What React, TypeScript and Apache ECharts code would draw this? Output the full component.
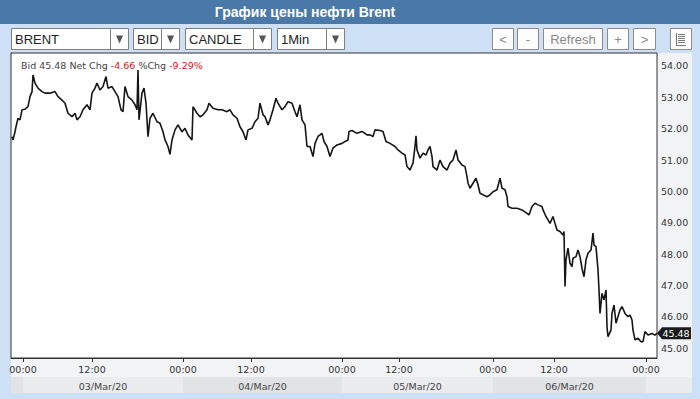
import React, { useEffect, useRef } from "react";
import * as echarts from "echarts";

// Bar index (chart timeline, one unit per candle slot) and prices
const bars = [
  1, 2, 4, 5, 7, 9, 11, 14, 17, 19, 21, 22, 24, 27, 31, 34, 39, 44, 47, 51,
  54, 57, 61, 64, 66, 69, 72, 76, 79, 81, 84, 86, 89, 92, 95, 97, 101, 104, 107, 110,
  112, 114, 117, 121, 124, 126, 127, 128, 131, 133, 135, 136, 137, 139, 142, 146, 149, 152, 154, 157,
  159, 161, 164, 167, 171, 174, 177, 181, 182, 186, 189, 192, 196, 198, 202, 207, 211, 216, 219, 222,
  226, 229, 232, 235, 237, 241, 244, 247, 249, 252, 254, 257, 259, 262, 265, 267, 271, 274, 277, 281,
  284, 286, 289, 291, 294, 296, 299, 302, 304, 307, 311, 313, 316, 319, 322, 326, 331, 334, 337, 338,
  341, 346, 351, 356, 359, 362, 364, 369, 372, 375, 379, 384, 387, 391, 394, 396, 399, 402, 404, 405,
  406, 409, 412, 415, 417, 419, 421, 422, 426, 429, 432, 436, 439, 442, 445, 447, 451, 454, 456, 457,
  459, 462, 465, 467, 469, 472, 476, 479, 482, 486, 489, 491, 494, 496, 497, 501, 506, 511, 516, 518,
  521, 524, 527, 531, 532, 535, 537, 539, 542, 544, 546, 549, 552, 553, 554, 555, 557, 559, 561, 562,
  565, 567, 569, 571, 573, 575, 577, 580, 582, 583, 585, 587, 588, 589, 591, 593, 595, 596, 597, 600,
  601, 603, 605, 607, 609, 611, 614, 617, 619, 621, 622, 624, 627, 630, 632, 634, 637, 641, 644, 646,
];
const prices = [
  51.74, 51.64, 51.9, 52.06, 52.33, 52.28, 52.6, 52.62, 52.7, 53.02, 53.18, 53.71, 53.45, 53.29, 53.18, 53.13, 53.13, 53.18, 53.02, 52.91,
  52.81, 52.49, 52.38, 52.49, 52.28, 52.38, 52.6, 52.76, 52.6, 53.13, 53.29, 53.45, 53.23, 53.34, 53.66, 53.29, 53.34, 53.18, 53.02, 52.6,
  52.54, 53.34, 53.02, 52.91, 52.76, 52.6, 53.87, 52.28, 53.13, 53.29, 52.81, 52.28, 51.74, 52.33, 52.49, 52.22, 52.17, 51.9, 51.64, 51.43,
  51.18, 51.64, 51.96, 52.12, 51.9, 52.01, 51.8, 51.64, 52.7, 52.49, 52.38, 52.44, 52.6, 52.81, 52.65, 52.6, 52.6, 52.54, 52.6, 52.44,
  52.33, 52.06, 51.9, 51.64, 51.96, 52.01, 52.22, 52.33, 52.81, 52.44, 52.38, 52.12, 52.28, 52.6, 52.97, 52.81, 52.6, 52.7, 52.86, 52.81,
  52.54, 52.38, 52.76, 52.28, 52.12, 51.43, 51.43, 51.11, 51.53, 51.75, 51.85, 51.59, 51.43, 51.11, 51.38, 51.48, 51.53, 51.59, 51.64, 51.91,
  51.94, 51.85, 51.91, 51.8, 51.8, 51.75, 51.96, 51.94, 51.91, 51.59, 51.53, 51.43, 51.32, 51.22, 51.16, 50.79, 50.68, 50.9, 51.43, 51.77,
  51.32, 51.06, 51.22, 51.16, 51.32, 51.43, 51.11, 50.79, 50.68, 51.0, 50.79, 50.68, 50.9, 51.0, 51.32, 51.0, 50.84, 50.79, 50.47, 50.26,
  50.1, 50.26, 50.42, 50.21, 49.94, 49.89, 49.83, 49.89, 49.99, 50.05, 50.42, 50.1, 50.05, 49.83, 49.52, 49.46, 49.46, 49.41, 49.3, 49.25,
  49.52, 49.62, 49.57, 49.52, 49.41, 49.2, 49.09, 48.98, 49.2, 48.98, 48.77, 48.72, 48.61, 48.72, 46.97, 47.82, 48.19, 47.71, 47.6, 47.87,
  47.92, 48.13, 47.92, 47.55, 47.28, 47.82, 48.03, 48.13, 48.67, 48.29, 48.24, 47.5, 46.86, 46.11, 46.75, 46.54, 46.86, 45.69, 45.37, 45.58,
  46.11, 46.38, 45.8, 46.01, 46.22, 46.33, 46.11, 46.01, 46.06, 45.9, 45.58, 45.27, 45.32, 45.21, 45.21, 45.53, 45.42, 45.47, 45.42, 45.48,
];

const barMax = 646;
const tickBars = [12, 81, 172, 240, 331, 388, 482, 543, 635];
const tickLabels = ["00:00", "12:00", "00:00", "12:00", "00:00", "12:00", "00:00", "12:00", "00:00"];
const dayBounds = [0, 12, 172, 331, 482, 635];
const dayLabels = ["", "03/Mar/20", "04/Mar/20", "05/Mar/20", "06/Mar/20", ""];
const yTicks = [45, 46, 47, 48, 49, 50, 51, 52, 53, 54];
const yMin = 44.69;
const yMax = 54.41;

const lastPrice = 45.48;
const netChg = -4.66;
const pctChg = -9.29;

const title = "График цены нефти Brent";
const selects = [
  { text: "BRENT", x: 11, w: 117, arrowW: 18 },
  { text: "BID", x: 133, w: 46, arrowW: 18 },
  { text: "CANDLE", x: 185, w: 86, arrowW: 18 },
  { text: "1Min", x: 277, w: 67, arrowW: 18 },
];
const buttons = [
  { text: "<", x: 492, w: 21 },
  { text: "-", x: 517, w: 21 },
  { text: "Refresh", x: 543, w: 59 },
  { text: "+", x: 607, w: 21 },
  { text: ">", x: 633, w: 22 },
];

const FONT = "DejaVu Sans";
const UI_FONT = "Liberation Sans";
const FS = 9.5;

export default function App() {
  const ref = useRef<HTMLDivElement>(null);
  useEffect(() => {
    const chart = echarts.init(ref.current!, null, { renderer: "svg" });
    const data = bars.map((b, i) => [b, prices[i]]);
    chart.setOption({
      animation: false,
      backgroundColor: "#cde0f6",
      grid: {
        left: 11,
        right: 43,
        top: 53,
        bottom: 41,
        show: true,
        backgroundColor: "#ffffff",
        borderColor: "#333",
        borderWidth: 1,
        z: 1,
      },
      xAxis: {
        type: "value",
        min: 0,
        max: barMax,
        axisLine: { show: true, lineStyle: { color: "#333" } },
        axisTick: { show: true, customValues: tickBars, length: 4, lineStyle: { color: "#333" } },
        axisLabel: {
          customValues: tickBars,
          formatter: (v: number) => {
            const i = tickBars.indexOf(Math.round(v));
            return i >= 0 ? tickLabels[i] : "";
          },
          color: "#333",
          fontFamily: FONT,
          fontSize: FS,
          margin: 6,
        },
        splitLine: { show: true, lineStyle: { color: "#e6e6e6", type: [4, 3] } },
      },
      yAxis: {
        type: "value",
        position: "right",
        min: yMin,
        max: yMax,
        axisLine: { show: true, lineStyle: { color: "#333" } },
        axisTick: { show: true, customValues: yTicks, length: 3, lineStyle: { color: "#333" } },
        axisLabel: {
          customValues: yTicks,
          formatter: (v: number) => v.toFixed(2),
          color: "#333",
          fontFamily: FONT,
          fontSize: FS,
          margin: 4,
        },
        splitLine: { show: true, lineStyle: { color: "#e6e6e6", type: [4, 3] } },
      },
      series: [
        {
          type: "line",
          data,
          showSymbol: false,
          lineStyle: { color: "#151515", width: 1.6 },
          z: 3,
          markPoint: {
            symbol: "path://M0,6 L6,0 L40,0 L40,12 L6,12 Z",
            symbolSize: [34, 12],
            symbolKeepAspect: false,
            symbolOffset: [17, 0],
            itemStyle: { color: "#1b1b1b" },
            label: {
              show: true,
              position: "inside",
              offset: [2, 0],
              formatter: lastPrice.toFixed(2),
              color: "#fff",
              fontFamily: FONT,
              fontSize: FS,
            },
            data: [{ coord: [bars[bars.length - 1], lastPrice] }],
          },
        },
      ],
    });

    const g: any[] = [];
    g.push({ type: "rect", z: -5, shape: { x: 11, y: 53, width: 681, height: 340 }, style: { fill: "#f2f3f5" } });
    g.push({ type: "rect", shape: { x: 0, y: 0, width: 700, height: 24 }, style: { fill: "#4a78a8" } });
    g.push({
      type: "text",
      x: 305,
      y: 12,
      style: {
        text: title,
        fill: "#fff",
        font: `bold 14px "${UI_FONT}"`,
        textAlign: "center",
        textVerticalAlign: "middle",
      },
    });
    selects.forEach((s) => {
      g.push({ type: "rect", shape: { x: s.x + 0.5, y: 28.5, width: s.w, height: 21 }, style: { fill: "#fff", stroke: "#808080", lineWidth: 1 } });
      const sep = s.x + s.w - s.arrowW + 0.5;
      g.push({ type: "line", shape: { x1: sep, y1: 28.5, x2: sep, y2: 49.5 }, style: { stroke: "#808080", lineWidth: 1 } });
      const cx = s.x + s.w - s.arrowW / 2 + 0.5;
      g.push({ type: "polygon", shape: { points: [[cx - 3.5, 35.5], [cx + 3.5, 35.5], [cx, 43.5]] }, style: { fill: "#555" } });
      g.push({
        type: "text",
        x: s.x + 4,
        y: 39.5,
        style: { text: s.text, fill: "#222", font: `13px "${UI_FONT}"`, textVerticalAlign: "middle" },
      });
    });
    buttons.forEach((b) => {
      g.push({ type: "rect", shape: { x: b.x + 0.5, y: 28.5, width: b.w, height: 21 }, style: { fill: "#fdfdfd", stroke: "#8c8c8c", lineWidth: 1 } });
      g.push({
        type: "text",
        x: b.x + b.w / 2 + 0.5,
        y: 39.5,
        style: { text: b.text, fill: "#888", font: `13px "${UI_FONT}"`, textAlign: "center", textVerticalAlign: "middle" },
      });
    });
    g.push({ type: "rect", shape: { x: 670.5, y: 28.5, width: 21, height: 21 }, style: { fill: "#fdfdfd", stroke: "#8c8c8c", lineWidth: 1 } });
    g.push({ type: "line", shape: { x1: 676.5, y1: 33, x2: 676.5, y2: 45 }, style: { stroke: "#777", lineWidth: 1 } });
    g.push({ type: "line", shape: { x1: 676, y1: 45.5, x2: 686, y2: 45.5 }, style: { stroke: "#777", lineWidth: 1 } });
    for (let k = 0; k < 5; k++) {
      const yy = 34.5 + k * 2;
      g.push({ type: "line", shape: { x1: 678, y1: yy, x2: 685, y2: yy }, style: { stroke: "#777", lineWidth: 1 } });
    }
    g.push({
      type: "text",
      x: 21,
      y: 65,
      z: 10,
      style: {
        text: `{a|Bid ${lastPrice.toFixed(2)} Net Chg }{r|${netChg.toFixed(2)}}{a| %Chg }{r|${pctChg.toFixed(2)}%}`,
        textVerticalAlign: "middle",
        rich: {
          a: { fill: "#444", fontFamily: FONT, fontSize: FS },
          r: { fill: "#e0101a", fontFamily: FONT, fontSize: FS },
        },
      },
    });
    const px = (b: number) => chart.convertToPixel({ xAxisIndex: 0 }, b) as number;
    for (let i = 0; i < dayBounds.length; i++) {
      const x0 = px(dayBounds[i]);
      const x1 = i + 1 < dayBounds.length ? px(dayBounds[i + 1]) : 692;
      g.push({
        type: "rect",
        shape: { x: x0, y: 377, width: x1 - x0, height: 16 },
        style: { fill: i % 2 === 0 ? "#e2e3e5" : "#ebecee" },
      });
      if (dayLabels[i]) {
        g.push({
          type: "text",
          x: (x0 + x1) / 2,
          y: 386,
          style: { text: dayLabels[i], fill: "#444", font: `${FS}px "${FONT}"`, textAlign: "center", textVerticalAlign: "middle" },
        });
      }
    }
    chart.setOption({ graphic: g });
    return () => chart.dispose();
  }, []);
  return <div ref={ref} style={{ position: "absolute", left: 0, top: 0, width: 700, height: 399 }} />;
}
